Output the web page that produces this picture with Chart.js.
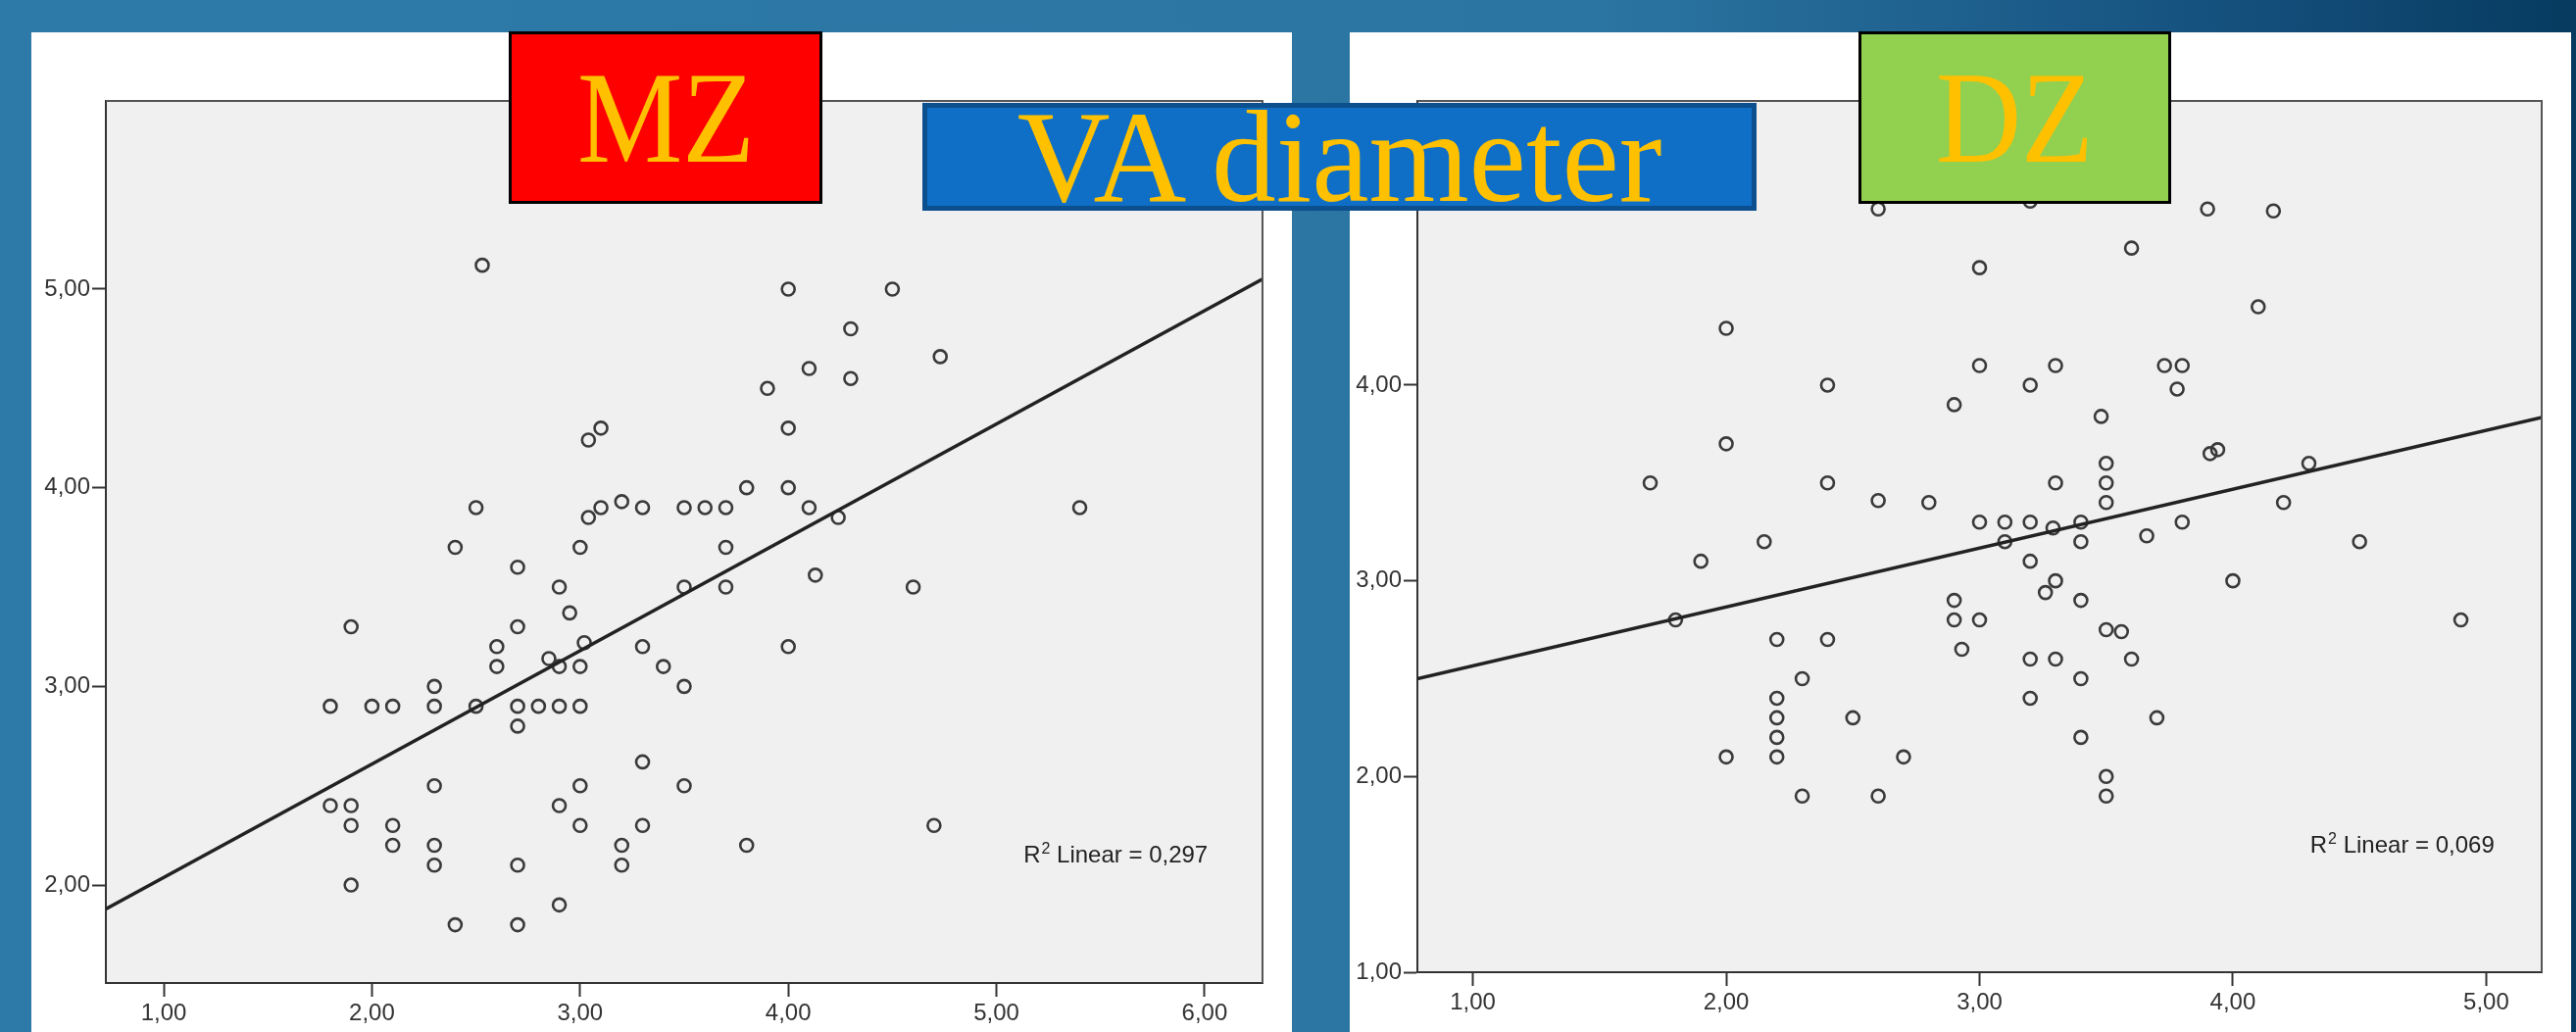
<!DOCTYPE html>
<html>
<head>
<meta charset="utf-8">
<script src="https://cdn.jsdelivr.net/npm/chart.js@4.4.1/dist/chart.umd.min.js"></script>
<style>
  html, body { margin: 0; padding: 0; }
  body {
    width: 2628px; height: 1053px; overflow: hidden; position: relative;
    background: linear-gradient(to right, #2d7aa8 0%, #2b75a2 62%, #175482 84%, #073b60 100%);
  }
  canvas { position: absolute; background: #fff; }
  #mzChart { left: 32px; top: 33px; }
  #dzChart { left: 1377px; top: 33px; }
  .tag {
    position: absolute; box-sizing: border-box;
    display: flex; align-items: center; justify-content: center;
    font-family: "Liberation Serif", "Times New Roman", serif;
    color: #ffc000; line-height: 1;
  }
  .tag span { display: inline-block; }
  #mz { left: 519px; top: 32px; width: 320px; height: 176px; background: #ff0000; border: 3px solid #000; font-size: 134px; }
  #dz { left: 1896px; top: 32px; width: 319px; height: 176px; background: #92d050; border: 3px solid #000; font-size: 134px; }
  #mz span, #dz span { transform: scaleX(0.9); }
  #va { left: 941px; top: 105px; width: 851px; height: 110px; background: #0f6fc6; border: 5px solid #0b4f8f; font-size: 134px; }
  #va span { transform: scaleX(0.98); }
</style>
</head>
<body>
<canvas id="mzChart" width="1286" height="1020"></canvas>
<canvas id="dzChart" width="1246" height="1020"></canvas>
<div class="tag" id="mz"><span>MZ</span></div>
<div class="tag" id="va"><span>VA diameter</span></div>
<div class="tag" id="dz"><span>DZ</span></div>
<script>
// MZ twins
const mzX = [2.53, 4.0, 4.5, 4.3, 4.73, 4.1, 4.3, 3.9, 3.1, 3.04, 4.0, 3.8, 4.0,
  2.5, 3.04, 3.1, 3.2, 3.3, 3.5, 3.6, 3.7, 4.1, 4.24, 5.4,
  2.4, 3.0, 3.7, 2.7, 2.9, 3.5, 3.7, 4.13, 4.6, 2.95, 1.9, 2.7,
  2.6, 3.02, 3.3, 4.0, 2.6, 2.85, 2.9, 3.0, 3.4, 2.3, 3.5,
  1.8, 2.0, 2.1, 2.3, 2.5, 2.7, 2.8, 2.9, 3.0, 2.7, 3.3,
  2.3, 3.0, 3.5, 1.8, 1.9, 2.9, 1.9, 2.1, 3.0, 3.3, 4.7,
  2.1, 2.3, 3.2, 3.8, 2.3, 2.7, 3.2, 1.9, 2.9, 2.4, 2.7];
const mzY = [5.12, 5.0, 5.0, 4.8, 4.66, 4.6, 4.55, 4.5, 4.3, 4.24, 4.3, 4.0, 4.0,
  3.9, 3.85, 3.9, 3.93, 3.9, 3.9, 3.9, 3.9, 3.9, 3.85, 3.9,
  3.7, 3.7, 3.7, 3.6, 3.5, 3.5, 3.5, 3.56, 3.5, 3.37, 3.3, 3.3,
  3.2, 3.22, 3.2, 3.2, 3.1, 3.14, 3.1, 3.1, 3.1, 3.0, 3.0,
  2.9, 2.9, 2.9, 2.9, 2.9, 2.9, 2.9, 2.9, 2.9, 2.8, 2.62,
  2.5, 2.5, 2.5, 2.4, 2.4, 2.4, 2.3, 2.3, 2.3, 2.3, 2.3,
  2.2, 2.2, 2.2, 2.2, 2.1, 2.1, 2.1, 2.0, 1.9, 1.8, 1.8];
const mzFitX = [0.722, 6.278];
const mzFitY = [1.88, 5.05];
const mzXTicks = [1, 2, 3, 4, 5, 6];
const mzYTicks = [2, 3, 4, 5];
const mzR2 = { value: "0,297", x: 5.13, y: 2.115 };

// DZ twins
const dzX = [2.6, 3.2, 3.9, 4.16, 3.6, 3.0, 4.1, 2.0,
  3.0, 3.3, 3.73, 3.8, 2.4, 3.2, 3.78, 2.9, 3.48, 2.0, 3.91, 3.94,
  3.5, 4.3, 1.7, 2.4, 3.3, 3.5, 2.6, 2.8, 3.5, 4.2,
  3.0, 3.1, 3.2, 3.4, 3.8, 3.29, 2.15, 3.1, 3.4, 3.66, 4.5,
  1.9, 3.2, 3.3, 4.0, 3.26, 2.9, 3.4, 1.8, 2.9, 3.0, 4.9,
  3.5, 3.56, 2.2, 2.4, 2.93, 3.2, 3.3, 3.6, 2.3, 3.4, 2.2, 3.2,
  2.2, 2.5, 3.7, 2.2, 3.4, 2.0, 2.2, 2.7, 3.5, 2.3, 2.6, 3.5];
const dzY = [4.9, 4.94, 4.9, 4.89, 4.7, 4.6, 4.4, 4.29,
  4.1, 4.1, 4.1, 4.1, 4.0, 4.0, 3.98, 3.9, 3.84, 3.7, 3.65, 3.67,
  3.6, 3.6, 3.5, 3.5, 3.5, 3.5, 3.41, 3.4, 3.4, 3.4,
  3.3, 3.3, 3.3, 3.3, 3.3, 3.27, 3.2, 3.2, 3.2, 3.23, 3.2,
  3.1, 3.1, 3.0, 3.0, 2.94, 2.9, 2.9, 2.8, 2.8, 2.8, 2.8,
  2.75, 2.74, 2.7, 2.7, 2.65, 2.6, 2.6, 2.6, 2.5, 2.5, 2.4, 2.4,
  2.3, 2.3, 2.3, 2.2, 2.2, 2.1, 2.1, 2.1, 2.0, 1.9, 1.9, 1.9];
const dzFitX = [0.781, 5.219];
const dzFitY = [2.50, 3.835];
const dzXTicks = [1, 2, 3, 4, 5];
const dzYTicks = [1, 2, 3, 4, 5];
const dzR2 = { value: "0,069", x: 4.305, y: 1.61 };

const fontFamily = "'Liberation Sans', Arial, sans-serif";
const fmt = v => v.toFixed(2).replace(".", ",");
const pairs = (xs, ys) => xs.map((x, i) => ({ x: x, y: ys[i] }));

// gray plot box + R² label
const plotBox = {
  id: "plotBox",
  beforeDraw(chart) {
    const a = chart.chartArea, ctx = chart.ctx;
    ctx.save();
    ctx.fillStyle = "#f0f0f0";
    ctx.fillRect(a.left, a.top, a.right - a.left, a.bottom - a.top);
    ctx.restore();
  },
  afterDraw(chart) {
    const a = chart.chartArea, ctx = chart.ctx;
    ctx.save();
    ctx.strokeStyle = "#555";
    ctx.lineWidth = 2;
    ctx.beginPath();
    ctx.moveTo(a.left, a.top);
    ctx.lineTo(a.right, a.top);
    ctx.lineTo(a.right, a.bottom);
    ctx.stroke();
    // R² Linear text
    const r2 = chart.options.plugins.plotBox.r2;
    let x = chart.scales.x.getPixelForValue(r2.x);
    const y = chart.scales.y.getPixelForValue(r2.y);
    ctx.fillStyle = "#222";
    ctx.textBaseline = "alphabetic";
    ctx.textAlign = "left";
    ctx.font = "24px " + fontFamily;
    ctx.fillText("R", x, y);
    x += ctx.measureText("R").width + 1;
    ctx.font = "16px " + fontFamily;
    ctx.fillText("2", x, y - 9);
    x += ctx.measureText("2").width;
    ctx.font = "24px " + fontFamily;
    ctx.fillText(" Linear = " + r2.value, x, y);
    ctx.restore();
  }
};

function makeChart(id, xs, ys, fitX, fitY, xTicks, yTicks, xRange, yRange, r2, yWidth, xHeight) {
  const tickFont = { family: fontFamily, size: 24 };
  return new Chart(document.getElementById(id), {
    type: "scatter",
    data: {
      datasets: [{
        type: "line",
        data: pairs(fitX, fitY),
        borderColor: "#222",
        borderWidth: 3.5,
        pointRadius: 0,
        fill: false
      }, {
        data: pairs(xs, ys),
        pointStyle: "circle",
        pointRadius: 6.5,
        pointBorderWidth: 2.6,
        borderColor: "#3a3a3a",
        backgroundColor: "rgba(0,0,0,0)"
      }]
    },
    options: {
      responsive: false,
      animation: false,
      devicePixelRatio: 1,
      layout: { padding: { top: 70, right: 30, left: 0, bottom: 0 } },
      plugins: {
        legend: { display: false },
        tooltip: { enabled: false },
        plotBox: { r2: r2 }
      },
      scales: {
        x: {
          type: "linear",
          min: xRange[0],
          max: xRange[1],
          afterBuildTicks: s => { s.ticks = xTicks.map(v => ({ value: v })); },
          afterFit: s => { s.height = xHeight; },
          border: { display: true, color: "#333", width: 2 },
          grid: { drawOnChartArea: false, drawTicks: true, tickLength: 14, tickColor: "#333", tickWidth: 2 },
          ticks: { autoSkip: false, maxRotation: 0, padding: 3, color: "#333", font: tickFont, callback: v => fmt(v) }
        },
        y: {
          type: "linear",
          min: yRange[0],
          max: yRange[1],
          afterBuildTicks: s => { s.ticks = yTicks.map(v => ({ value: v })); },
          afterFit: s => { s.width = yWidth; },
          border: { display: true, color: "#333", width: 2 },
          grid: { drawOnChartArea: false, drawTicks: true, tickLength: 14, tickColor: "#333", tickWidth: 2 },
          ticks: { autoSkip: false, padding: 2, color: "#333", font: tickFont, callback: v => fmt(v) }
        }
      }
    },
    plugins: [plotBox]
  });
}

makeChart("mzChart", mzX, mzY, mzFitX, mzFitY, mzXTicks, mzYTicks, [0.722, 6.278], [1.507, 5.947], mzR2, 76, 50);
makeChart("dzChart", dzX, dzY, dzFitX, dzFitY, dzXTicks, dzYTicks, [0.781, 5.219], [1.0, 5.452], dzR2, 69, 61);
</script>
</body>
</html>
